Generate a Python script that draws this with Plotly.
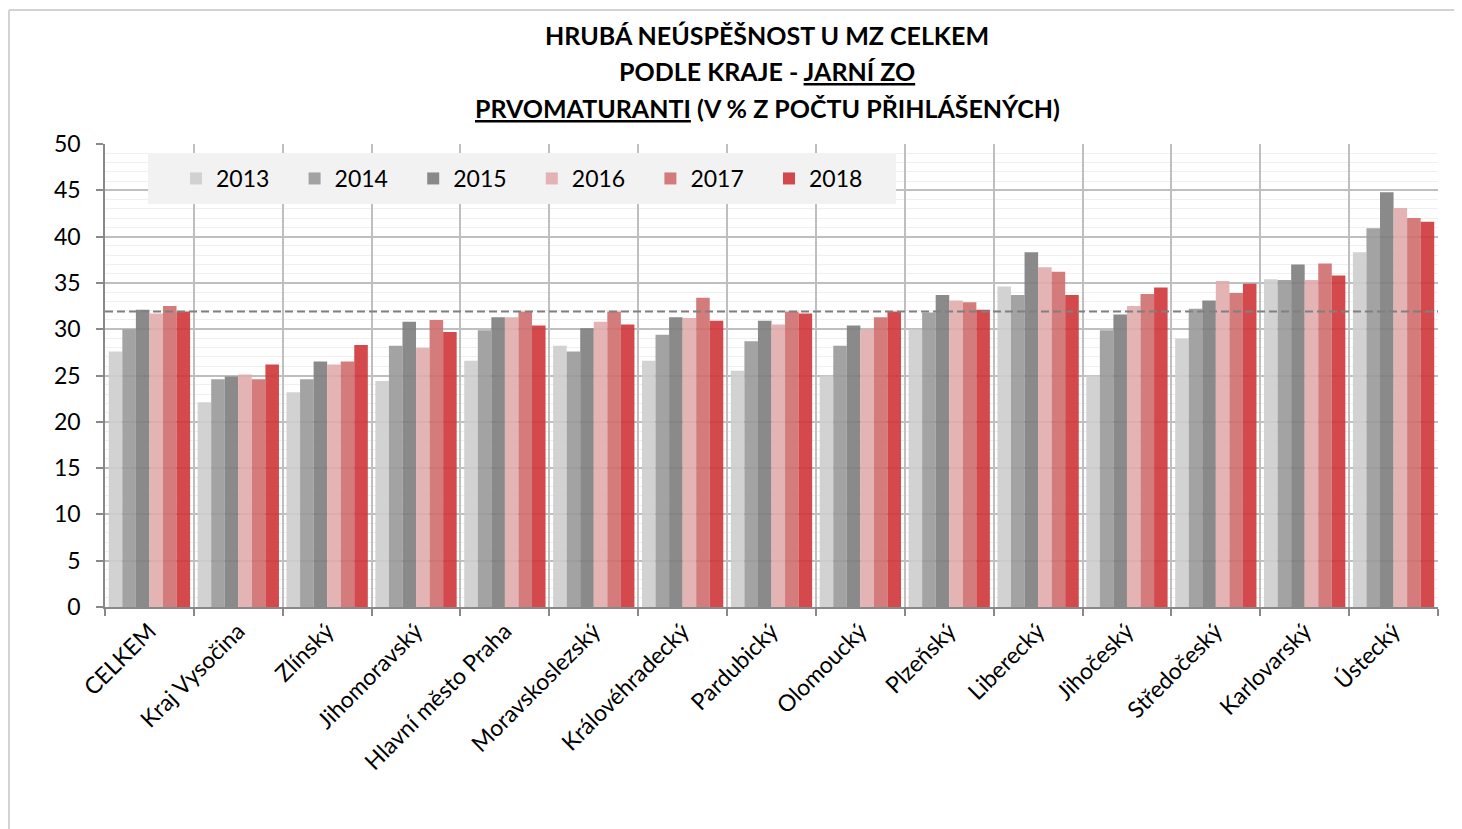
import plotly.graph_objects as go

categories = ["CELKEM", "Kraj Vysočina", "Zlínský", "Jihomoravský", "Hlavní město Praha",
              "Moravskoslezský", "Královéhradecký", "Pardubický", "Olomoucký", "Plzeňský",
              "Liberecký", "Jihočeský", "Středočeský", "Karlovarský", "Ústecký"]

years = ["2013", "2014", "2015", "2016", "2017", "2018"]

v2013 = [27.6, 22.1, 23.2, 24.4, 26.6, 28.2, 26.6, 25.5, 25.0, 30.0, 34.6, 25.0, 29.0, 35.4, 38.3]
v2014 = [30.0, 24.6, 24.6, 28.2, 29.9, 27.6, 29.4, 28.7, 28.2, 31.8, 33.7, 29.9, 32.2, 35.3, 40.9]
v2015 = [32.1, 24.9, 26.5, 30.8, 31.3, 30.1, 31.3, 30.9, 30.4, 33.7, 38.3, 31.6, 33.1, 37.0, 44.8]
v2016 = [31.7, 25.1, 26.2, 28.0, 31.3, 30.8, 31.2, 30.5, 30.0, 33.1, 36.7, 32.5, 35.2, 35.3, 43.1]
v2017 = [32.5, 24.6, 26.5, 31.0, 31.9, 31.9, 33.4, 31.9, 31.3, 32.9, 36.2, 33.8, 33.9, 37.1, 42.0]
v2018 = [31.9, 26.2, 28.3, 29.7, 30.4, 30.5, 30.9, 31.7, 31.9, 32.1, 33.7, 34.5, 34.9, 35.8, 41.6]

series = [v2013, v2014, v2015, v2016, v2017, v2018]
colors = ["rgba(205,205,205,0.9)", "rgba(153,153,153,0.9)", "rgba(125,125,125,0.9)",
          "rgba(225,172,172,0.9)", "rgba(207,109,109,0.9)", "rgba(207,54,56,0.9)"]

title_lines = ["<b>HRUBÁ NEÚSPĚŠNOST U MZ CELKEM</b>",
               "<b>PODLE KRAJE - <u>JARNÍ ZO</u></b>",
               "<b><u>PRVOMATURANTI</u> (V % Z POČTU PŘIHLÁŠENÝCH)</b>"]

FONT = "Lato"
OFF = 8  # page body margin
W, H = 1454, 821
ML, MR, MT, MB = 97, 24, 136, 222
PW, PH = W - ML - MR, H - MT - MB

def px_x(p):
    return (p - OFF - ML) / PW

def px_y(p):
    return (H - MB - (p - OFF)) / PH

fig = go.Figure()
for name, vals, col in zip(years, series, colors):
    fig.add_trace(go.Bar(name=name, x=categories, y=vals, marker=dict(color=col, line=dict(width=0))))

ref_value = v2018[0]

border = dict(color="#D3D3D3", width=2)
shapes = [
    dict(type="rect", xref="paper", yref="paper", x0=px_x(148), x1=px_x(896), y0=px_y(204), y1=px_y(153),
         fillcolor="#F2F2F2", line=dict(width=0), layer="above"),
    dict(type="line", xref="paper", yref="y", x0=0, x1=1, y0=ref_value, y1=ref_value,
         line=dict(color="#808080", width=2, dash="8px,4px"), layer="above"),
    dict(type="line", xref="paper", yref="paper", x0=px_x(9), x1=px_x(9), y0=px_y(840), y1=px_y(10),
         line=border, layer="above"),
    dict(type="line", xref="paper", yref="paper", x0=px_x(9), x1=px_x(1470), y0=px_y(10), y1=px_y(10),
         line=border, layer="above"),
]

annotations = []
for i, line in enumerate(title_lines):
    annotations.append(dict(text=line, xref="paper", yref="paper", x=px_x(767), y=px_y(35 + 36.5 * i),
                            xanchor="center", yanchor="middle", showarrow=False,
                            font=dict(family=FONT, size=25, color="#000000")))

fig.update_layout(
    width=W, height=H,
    margin=dict(l=ML, r=MR, t=MT, b=MB, autoexpand=False),
    paper_bgcolor="white", plot_bgcolor="white",
    barmode="group", bargap=0.085, bargroupgap=0,
    font=dict(family=FONT, size=22, color="#000000"),
    showlegend=True,
    legend=dict(orientation="h", x=px_x(176), y=px_y(178.5), xanchor="left", yanchor="middle",
                bgcolor="rgba(0,0,0,0)", font=dict(family=FONT, size=23, color="#000000"),
                entrywidth=73.6, entrywidthmode="pixels", itemclick=False),
    shapes=shapes,
    annotations=annotations,
    xaxis=dict(type="category", range=[-0.5, len(categories) - 0.5], tickson="boundaries",
               showgrid=True, gridcolor="#BFBFBF", gridwidth=1.5,
               ticks="outside", ticklen=7, tickcolor="#898989", tickwidth=1.5,
               showline=True, linecolor="#898989", linewidth=1.5,
               tickangle=-45, tickfont=dict(family=FONT, size=23, color="#000000")),
    yaxis=dict(range=[0, 50], dtick=5, tick0=0,
               showgrid=True, gridcolor="#BFBFBF", gridwidth=1.5,
               minor=dict(dtick=1, showgrid=True, gridcolor="#EFEFEF", gridwidth=1),
               ticks="outside", ticklen=7, tickcolor="#898989", tickwidth=1.5,
               showline=True, linecolor="#898989", linewidth=1.5,
               ticklabelstandoff=11, zeroline=False,
               tickfont=dict(family=FONT, size=23, color="#000000")),
)

fig.write_html("out.html")
